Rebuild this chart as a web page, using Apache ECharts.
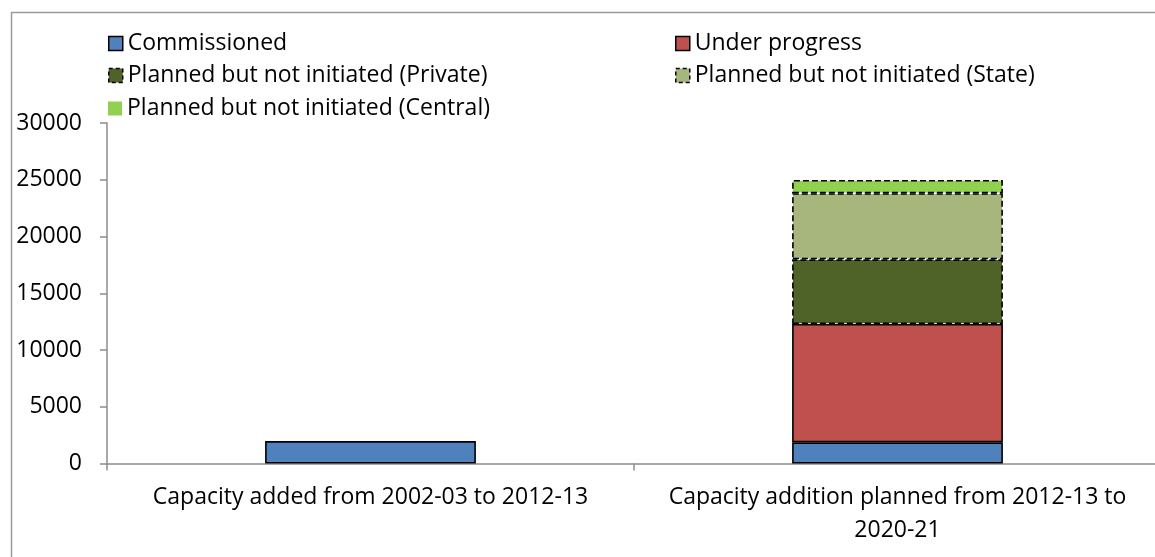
<!DOCTYPE html>
<html>
<head>
<meta charset="utf-8">
<script src="https://cdn.jsdelivr.net/npm/echarts@6/dist/echarts.min.js"></script>
<style>
html,body{margin:0;padding:0;background:#fff;}
#chart{width:1155px;height:557px;}
</style>
</head>
<body>
<div id="chart"></div>
<script>
const categories = ["Capacity added from 2002-03 to 2012-13", "Capacity addition planned from 2012-13 to\n2020-21"];
const seriesNames = ["Commissioned", "Under progress", "Planned but not initiated (Private)", "Planned but not initiated (State)", "Planned but not initiated (Central)"];
const commissioned = [1980, 1870];
const underProgress = ['-', 10420];
const plannedPrivate = ['-', 5700];
const plannedState = ['-', 5820];
const plannedCentral = ['-', 1170];
const yTicks = [0, 5000, 10000, 15000, 20000, 25000, 30000];

const colors = ["#4F81BD", "#C0504D", "#4F6228", "#A6B67C", "#92D050"];
const borderTypes = ["solid", "solid", [6, 3], [6, 3], [6, 3]];
const values = [commissioned, underProgress, plannedPrivate, plannedState, plannedCentral];

const FONT = "Open Sans";
const FS = 23;

const legendPos = [
  {left: 103, top: 27},
  {left: 670, top: 27},
  {left: 103, top: 59},
  {left: 670, top: 59},
  {left: 103, top: 92}
];

const chart = echarts.init(document.getElementById('chart'));
chart.setOption({
  animation: false,
  backgroundColor: '#fff',
  graphic: [{
    type: 'rect',
    shape: {x: 11.5, y: 12.5, width: 1300, height: 700},
    style: {fill: 'none', stroke: '#9a9a9a', lineWidth: 1.5},
    silent: true
  }],
  legend: seriesNames.map((n, i) => ({
    left: legendPos[i].left,
    top: legendPos[i].top,
    itemWidth: 14,
    itemHeight: 14,
    itemGap: 8,
    icon: 'rect',
    selectedMode: false,
    textStyle: {fontFamily: FONT, fontSize: FS, color: '#000'},
    data: [{
      name: n,
      itemStyle: i === 4 ? {borderWidth: 0} : {borderColor: '#000', borderWidth: 1.5, borderType: i >= 2 ? [4, 3] : 'solid'}
    }]
  })),
  grid: {left: 107, top: 123, width: 1054, height: 340.5, outerBoundsMode: 'none'},
  xAxis: {
    type: 'category',
    data: categories,
    axisLine: {lineStyle: {color: '#8c8c8c', width: 1.5}},
    axisTick: {show: true, length: 7, lineStyle: {color: '#8c8c8c', width: 1.5}},
    axisLabel: {fontFamily: FONT, fontSize: FS, color: '#000', margin: 17, lineHeight: 33, interval: 0, hideOverlap: false}
  },
  yAxis: {
    type: 'value',
    min: 0, max: 30000, interval: 5000,
    axisLine: {show: true, lineStyle: {color: '#8c8c8c', width: 1.5}},
    axisTick: {show: true, length: 7, lineStyle: {color: '#8c8c8c', width: 1.5}},
    splitLine: {show: false},
    axisLabel: {fontFamily: FONT, fontSize: FS, color: '#000', margin: 25, formatter: v => String(v)}
  },
  series: seriesNames.map((n, i) => ({
    name: n,
    type: 'bar',
    stack: 'total',
    barWidth: '40%',
    data: values[i],
    itemStyle: {color: colors[i], borderColor: '#000', borderWidth: 1.6, borderType: borderTypes[i]}
  }))
});
</script>
</body>
</html>
